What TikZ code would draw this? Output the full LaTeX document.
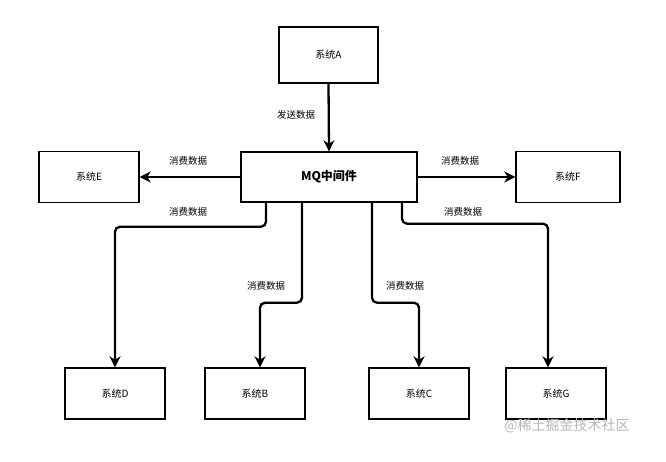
\documentclass[tikz,border=0pt]{standalone}
\usepackage{fontspec}
\setmainfont{Noto Sans CJK SC}
\usetikzlibrary{arrows.meta}
\tikzset{
  box/.style={draw=black, line width=1.4pt, fill=white, minimum width=100pt, minimum height=51pt, inner sep=0pt, font=\fontsize{10pt}{12pt}\selectfont},
  arr/.style={draw=black, line width=2.3pt, rounded corners=5pt, -{Stealth[length=11pt,width=11pt,inset=3.5pt]}},
  lbl/.style={inner sep=0pt, font=\fontsize{9.5pt}{11pt}\selectfont},
}
\begin{document}
\begin{tikzpicture}[x=1pt,y=-1pt]
\useasboundingbox[fill=white] (0,0) rectangle (666,462);
% boxes
\node[box, minimum width=99pt, minimum height=56pt] (A) at (328.5,55) {系统A};
\node[box, minimum width=176pt, minimum height=50pt, font=\fontsize{12pt}{14pt}\selectfont\bfseries] (MQ) at (329,177) {MQ中间件};
\node[box] (E) at (89,177) {系统E};
\node[box, minimum width=104pt] (F) at (568,177) {系统F};
\node[box] (D) at (115,393.5) {系统D};
\node[box] (B) at (255,393.5) {系统B};
\node[box] (C) at (419,393.5) {系统C};
\node[box] (G) at (556,393.5) {系统G};
% connectors
\draw[arr] (A.south) -- (MQ.north);
\draw[arr] (MQ.west) -- (E.east);
\draw[arr] (MQ.east) -- (F.west);
\draw[arr] ([xshift=-63pt]MQ.south) -- ++(0,24) -| (D.north);
\draw[arr] ([xshift=-27pt]MQ.south) -- ++(0,100) -| ([xshift=5pt]B.north);
\draw[arr] ([xshift=43pt]MQ.south) -- ++(0,100) -| (C.north);
\draw[arr] ([xshift=73pt]MQ.south) -- ++(0,21) -| ([xshift=-8pt]G.north);
% labels
\node[lbl] (lA) at (296,115) {发送数据};
\node[lbl] (lE) at (188,161) {消费数据};
\node[lbl] (lF) at (460,161) {消费数据};
\node[lbl] (lD) at (188,212) {消费数据};
\node[lbl] (lB) at (266,286) {消费数据};
\node[lbl] (lC) at (405,286) {消费数据};
\node[lbl] (lG) at (463,212) {消费数据};
% watermark
\node[inner sep=0pt, text=black!28, font=\fontsize{14pt}{16pt}\selectfont] (wm) at (567,426) {@稀土掘金技术社区};
\end{tikzpicture}
\end{document}
